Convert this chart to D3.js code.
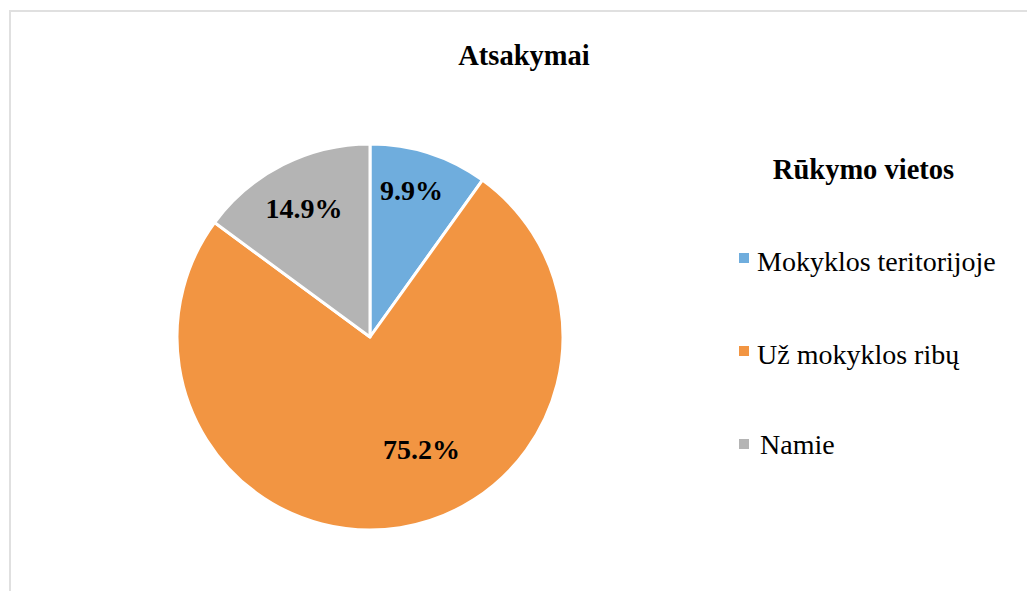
<!DOCTYPE html>
<html><head><meta charset="utf-8">
<script src="https://cdn.jsdelivr.net/npm/d3@7"></script>
<style>body{margin:0;background:#fff}svg{display:block}</style>
</head><body>
<svg id="c" width="1027" height="591"></svg>
<script>
const categories = ["Mokyklos teritorijoje", "Už mokyklos ribų", "Namie"];
const values = [9.9, 75.2, 14.9];
const colors = ["#6FADDD", "#F29542", "#B4B4B4"];
const title = "Atsakymai";
const legendTitle = "Rūkymo vietos";

const svg = d3.select("#c");
const font = "'Liberation Serif','Times New Roman',serif";

svg.append("rect").attr("x", 10).attr("y", 11).attr("width", 1100).attr("height", 700)
  .attr("fill", "none").attr("stroke", "#e0e0e0").attr("stroke-width", 2);

svg.append("text").attr("x", 524).attr("y", 65).attr("text-anchor", "middle")
  .attr("font-family", font).attr("font-weight", "bold").attr("font-size", 28.5).text(title);

const cx = 370, cy = 337, r = 193;
const pie = d3.pie().sort(null).value(d => d)(values);
const arc = d3.arc().innerRadius(0).outerRadius(r);
const g = svg.append("g").attr("transform", `translate(${cx},${cy})`);
g.selectAll("path").data(pie).join("path")
  .attr("d", arc).attr("fill", (d, i) => colors[i])
  .attr("stroke", "#fff").attr("stroke-width", 3).attr("stroke-linejoin", "round");

// label placement (Excel "best fit"-like): radius fraction and angular shift per slice
const labelPlace = [{ rf: 0.79, da: -2.0 }, { rf: 0.64, da: -15.6 }, { rf: 0.746, da: -0.5 }];
g.selectAll("text.lbl").data(pie).join("text").attr("class", "lbl")
  .attr("transform", (d, i) => {
    const p = labelPlace[i];
    const a = (d.startAngle + d.endAngle) / 2 + p.da * Math.PI / 180;
    const rr = r * p.rf;
    return `translate(${rr * Math.sin(a)},${-rr * Math.cos(a)})`;
  })
  .attr("text-anchor", "middle").attr("dy", "0.33em")
  .attr("font-family", font).attr("font-weight", "bold").attr("font-size", 28).text(d => d.value.toFixed(1) + "%");

svg.append("text").attr("x", 863.5).attr("y", 179).attr("text-anchor", "middle")
  .attr("font-family", font).attr("font-weight", "bold").attr("font-size", 28.5).text(legendTitle);

const ly = d3.scalePoint().domain(categories).range([253, 439]);
const lg = svg.append("g");
categories.forEach((c, i) => {
  const y = ly(c);
  lg.append("rect").attr("x", 739).attr("y", y).attr("width", 10).attr("height", 10).attr("fill", colors[i]);
  lg.append("text").attr("x", i === 2 ? 760 : 757).attr("y", y + (i === 2 ? 15 : 18))
    .attr("font-family", font).attr("font-size", 28).text(c);
});
</script>
</body></html>
